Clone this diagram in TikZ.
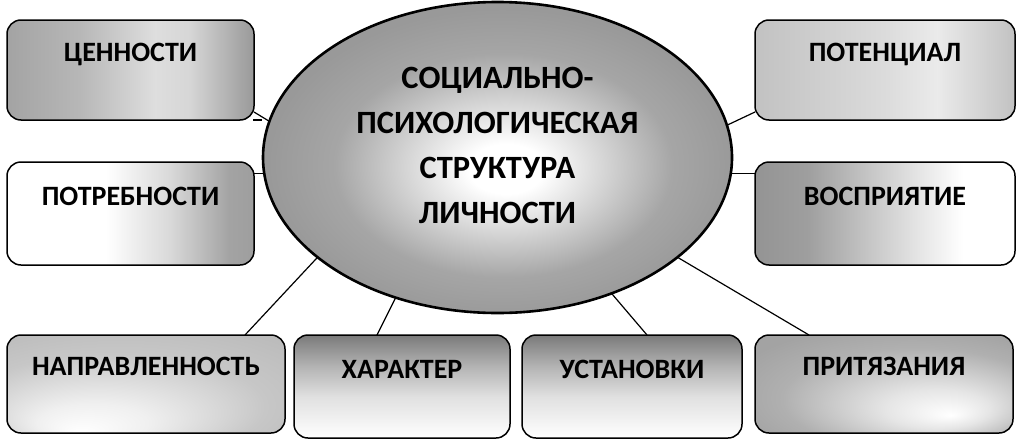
\documentclass[tikz,border=0pt]{standalone}
\usepackage{fontspec}
\setmainfont{Carlito}
\usetikzlibrary{shapes.geometric,calc}

\pgfdeclareradialshading{ellsh}{\pgfpoint{1bp}{-2bp}}{color(0bp)=(white); color(4bp)=(white); color(18bp)=(black!35); color(25bp)=(black!40); color(50bp)=(black!40)}
\pgfdeclarehorizontalshading{censh}{100bp}{color(0bp)=(black!36); color(25bp)=(black!36); color(40bp)=(black!28); color(55bp)=(black!13); color(62bp)=(black!16); color(75bp)=(black!40); color(100bp)=(black!40)}
\pgfdeclarehorizontalshading{potrsh}{100bp}{color(0bp)=(white); color(25bp)=(white); color(45bp)=(white); color(58bp)=(black!15); color(70bp)=(black!36); color(75bp)=(black!38); color(100bp)=(black!38)}
\pgfdeclareradialshading{naprsh}{\pgfpoint{-12bp}{-25bp}}{color(0bp)=(white); color(10bp)=(black!6); color(27bp)=(black!22); color(40bp)=(black!27); color(50bp)=(black!27)}
\pgfdeclareverticalshading{topdark}{100bp}{color(0bp)=(white); color(25bp)=(white); color(45bp)=(black!12); color(60bp)=(black!30); color(75bp)=(black!52); color(100bp)=(black!52)}
\pgfdeclareradialshading{pritsh}{\pgfpoint{13bp}{-16bp}}{color(0bp)=(white); color(10bp)=(black!10); color(26bp)=(black!31); color(35bp)=(black!36); color(50bp)=(black!36)}
\pgfdeclarehorizontalshading{potsh}{100bp}{color(0bp)=(black!24); color(25bp)=(black!24); color(50bp)=(black!14); color(60bp)=(black!8); color(75bp)=(black!24); color(100bp)=(black!24)}
\pgfdeclarehorizontalshading{vossh}{100bp}{color(0bp)=(black!42); color(25bp)=(black!42); color(35bp)=(black!38); color(55bp)=(black!12); color(65bp)=(white); color(75bp)=(white); color(100bp)=(white)}

\tikzset{
  box/.style={draw, line width=1.5pt, rounded corners=14pt, inner sep=0pt, outer sep=0pt,
    font=\fontsize{28}{30}\selectfont\bfseries, text height=18pt, text depth=35pt},
  bigell/.style={draw, line width=2.6pt, ellipse, inner sep=0pt, outer sep=0pt,
    minimum width=469pt, minimum height=311pt, shade, shading=ellsh,
    align=center, font=\fontsize{32.5}{45}\selectfont\bfseries},
  link/.style={line width=1.2pt},
}

\begin{document}
\begin{tikzpicture}[x=1pt,y=-1pt]
\fill[white] (0,0) rectangle (1024,447);
\useasboundingbox (0,0) rectangle (1024,447);

\node[box, shade, shading=censh, minimum width=247pt, minimum height=100pt] (cen) at (130.5,70) {ЦЕННОСТИ};
\node[box, shade, shading=potrsh, minimum width=247pt, minimum height=103pt] (potr) at (130.5,213.5) {ПОТРЕБНОСТИ};
\node[box, shade, shading=naprsh, minimum width=278pt, minimum height=98pt] (napr) at (146,384) {НАПРАВЛЕННОСТЬ};
\node[box, shade, shading=topdark, minimum width=216pt, minimum height=103pt] (char) at (402,386.5) {ХАРАКТЕР};
\node[box, shade, shading=topdark, minimum width=220pt, minimum height=103pt] (ust) at (632,386.5) {УСТАНОВКИ};
\node[box, shade, shading=pritsh, minimum width=258pt, minimum height=98pt] (prit) at (884,384) {ПРИТЯЗАНИЯ};
\node[box, shade, shading=potsh, minimum width=260pt, minimum height=100pt] (pot) at (885,70) {ПОТЕНЦИАЛ};
\node[box, shade, shading=vossh, minimum width=260pt, minimum height=103pt] (vos) at (885,213.5) {ВОСПРИЯТИЕ};

\node[bigell] (ell) at (497.5,157.5) {СОЦИАЛЬНО-\\ПСИХОЛОГИЧЕСКАЯ\\СТРУКТУРА\\ЛИЧНОСТИ\rule[-25pt]{0pt}{0pt}};

\draw[link] ([yshift=8pt]cen.south east) -- (ell.171);
\draw[link] ([xshift=-1pt]cen.south east) -- ++(9,0);
\draw[link] (ell.184) -- (ell.184 -| potr.east);
\draw[link] ([xshift=-40pt]napr.north east) -- (ell.209.5);
\draw[link] ([xshift=-25pt]char.north) -- (ell.234.8);
\draw[link] ([xshift=15pt]ust.north) -- (ell.310.8);
\draw[link] ([xshift=-75pt]prit.north) -- (ell.331.4);
\draw[link] ([yshift=8pt]pot.south west) -- (ell.8);
\draw[link] (ell.356.2) -- (ell.356.2 -| vos.west);
\end{tikzpicture}
\end{document}
